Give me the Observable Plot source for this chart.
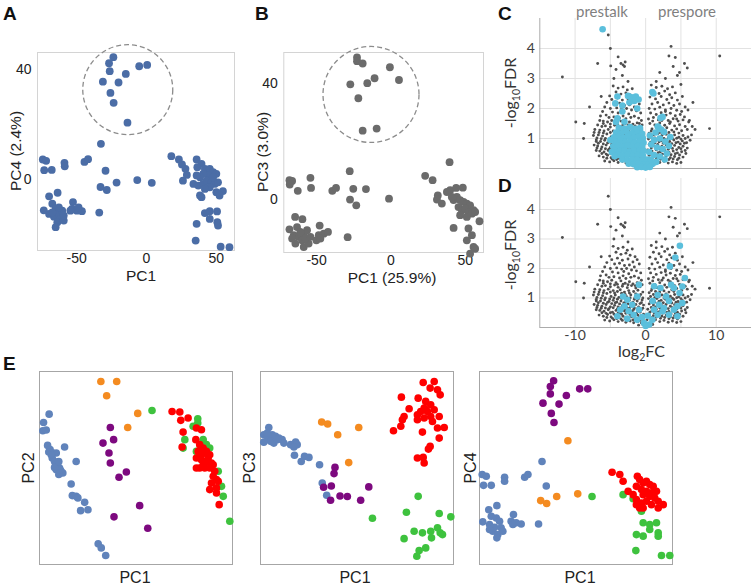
<!DOCTYPE html>
<html><head><meta charset="utf-8">
<script src="https://cdn.jsdelivr.net/npm/d3@7"></script>
<script src="https://cdn.jsdelivr.net/npm/@observablehq/plot@0.6"></script>
<style>
html,body{margin:0;padding:0;background:#fff;}
#root{position:relative;width:751px;height:585px;overflow:hidden;background:#fff;}
#root svg{position:absolute;overflow:visible;}
</style></head><body><div id="root"></div>
<script>
// ---------- Panel A: PC1 vs PC4 ----------
const aTicksX = [-50, 0, 50];
const aTicksY = [0, 40];
const aRing = [-13.4, 32.7];
const aPts = [
[-23.7,44.5],[-26.8,42.3],[-26.3,39.4],[-31.2,35.6],[-20,35.3],[-14.8,38.4],[-5.2,41.2],[0.5,41.7],[-25.8,31.5],[-23.5,27.9],[-13.6,20.7],
[-32.6,13],[-74.2,7.3],[-71.8,6.8],[-73.2,3.4],[-67.8,3.5],[-58.7,6.1],[-58.5,4.8],[-44.4,6.4],[-41.8,7.4],[-29.3,3.2],[-21.4,-1.1],[-32.9,-2.7],[-28.4,-3.8],[-6.6,-0.2],[3.8,-1.2],
[-67.4,-8.8],[-65.0,-10.7],[-69.7,-12.5],[-66.2,-13.5],[-62.7,-12.5],[-60.3,-11.3],[-61.5,-14.3],[-63.8,-15.5],[-59.2,-14.9],[-67.4,-11.9],[-62.7,-10.1],[-59.2,-13.1],[-65.0,-17.3],[-73.5,-11.2],[-69.7,-6.1],[-63.6,-4.8],[-52.6,-8.2],[-53.3,-10.7],[-49.8,-11.3],[-46.2,-11.5],[-54.5,-11.3],[-48.6,-10.1],[-33.8,-12.0],
[17.8,8.5],[23.2,7.3],[25.4,5.5],[27.9,3.9],[26.1,-0.4],[28.9,1.7],[35.9,7.3],[39.4,5.7],[36.4,4.5],[41.8,3.9],[45.3,3.9],[47.7,2.7],[50.0,2.1],[44.1,1.5],[40.6,2.1],[38.3,0.8],[35.9,1.5],[33.6,-1.6],[37.1,-2.2],[40.6,-1.6],[43.0,-0.4],[46.5,-1.0],[48.8,-1.6],[51.2,-1.0],[47.7,0.8],[45.3,-2.8],[41.8,-3.4],[50.0,-4.6],[54.7,-4.2],[52.3,-5.8],[39.4,-6.4],[38.3,-5.8],[41.8,-12.2],[45.3,-11.5],[50.5,-11.6],[45.3,-14.3],[35.9,-16.1],[50.7,-15.5],[51.2,-16.7],[35.2,-22.2],[53.1,-24.4],[59.4,-24.6]
];

// ---------- Panel B: PC1 vs PC3 ----------
const bTicksX = [-50, 0, 50];
const bTicksY = [0, 40];
const bRing = [-13.4, 36.2];
const bPts = [
[-22.8,49],[-22.8,47.7],[-19,46.9],[-0.7,45.6],[5.4,41.2],[-11,41.8],[-15.9,40.1],[-27.3,39.7],[-21.9,34.9],[-19,23.7],[-9.6,24.4],
[-68.2,6.6],[-66.4,6.3],[-68,5.1],[-62.6,2.9],[-54.1,7.4],[-53.7,3.9],[-39.4,2.9],[-36.9,3.9],[-27.7,9.7],[-25.3,3.6],[-16.8,3.5],[-27.5,-0.1],[-23.3,-2.1],[-1.3,0.2],[-29.1,-13.1],
[-64.4,-6.1],[-59.5,-6.9],[-68.2,-10.4],[-63.1,-9.6],[-65.3,-12.4],[-62.0,-13.0],[-58.6,-11.9],[-56.4,-10.7],[-59.7,-14.2],[-64.2,-15.3],[-58.6,-16.5],[-55.3,-15.3],[-60.9,-11.3],[-57.5,-13.6],[-54.1,-13.0],[-66.4,-13.6],[-47.9,-9.1],[-48.5,-12.4],[-45.2,-11.9],[-42.3,-11.3],[-50.1,-14.2],[-47.4,-13.6],
[23.0,8.1],[28.0,6.6],[31.5,1.3],[30.9,-0.1],[34.2,-1.5],[39.4,12.8],[39.8,3.1],[43.8,3.9],[48.3,4.0],[42.1,-0.3],[44.3,0.8],[46.5,-0.3],[48.8,-0.9],[51.0,-1.5],[53.2,-2.1],[55.5,-3.8],[45.4,-2.7],[47.7,-3.8],[49.9,-3.2],[52.1,-4.4],[54.4,-5.0],[46.5,-5.5],[51.0,-6.1],[56.6,-4.4],[59.5,-7.6],[42.1,-9.9],[52.1,-10.1],[54.4,-12.4],[51.0,-14.2],[55.5,-16.5],[56.6,-17.1],[53.2,-18.8],[37.6,2.5],[40.9,0.8]
];

// ---------- Panels C & D: volcano (log2FC, -log10FDR) ----------
const vTicksX = [-10, 0, 10];
const vGridX = [-10, -5, 0, 5, 10];
const vTicksY = [1, 2, 3, 4];
const genes = [
[-11.8,3.05],[-9.9,1.55],[-8.7,1.5],[-7.95,2.05],[-8.8,1.0],[-6.8,3.5],[-5.0,4.0],[-5.3,4.45],[-4.95,3.42],[-3.9,3.72],[-3.5,3.5],[-3.2,3.45],[-3.0,3.4],[-3.3,3.1],[-2.9,3.55],[3.6,4.07],[3.3,3.75],[4.2,3.7],[5.5,3.5],[5.9,3.35],[10.5,3.75],[9.05,1.33],[6.7,2.2],[-6.3,2.4],[-7.3,1.2],[-7.0,0.9],[-6.5,1.6],[7.0,1.3],[6.2,1.6],[6.6,1.4],[-4.5,3.0],[2.0,3.2],[2.8,3.0],[4.5,3.1],[1.5,2.9],[-2.5,2.9],[-4.2,3.3],[3.9,3.4],[4.8,3.2],[5.0,2.8],
[-4.6,2.75],[-3.9,2.68],[-3.2,2.72],[-2.6,2.62],[-1.9,2.66],[-4.2,2.55],[-3.5,2.48],[-2.8,2.52],[-2.2,2.45],[-1.5,2.4],[-5.1,2.42],[-4.8,2.3],[-4.0,2.35],[-3.3,2.28],[-2.5,2.32],[-1.8,2.22],[-1.2,2.3],[-5.5,2.2],[-4.4,2.15],[-3.7,2.18],[-3.0,2.1],[-2.3,2.12],[-1.6,2.05],[-0.9,2.15],[-5.8,2.05],[-5.0,2.0],[-4.1,2.02],[-3.4,1.98],[-2.7,2.0],[-2.0,1.95],[-1.3,1.92],[-6.1,1.9],[-4.7,1.88],[-3.9,1.85],[-3.1,1.9],[-2.4,1.82],[-0.7,1.85],
[-6.4,1.75],[-5.6,1.78],[-5.2,1.7],[-4.5,1.72],[-3.7,1.68],[-3.2,1.75],[-2.8,1.66],[-2.1,1.7],[-1.6,1.74],[-1.0,1.68],[-0.6,1.6],[-6.0,1.58],[-5.4,1.55],[-4.8,1.6],[-4.2,1.52],[-3.5,1.58],[-2.9,1.5],[-2.3,1.55],[-1.8,1.48],[-1.2,1.52],[-0.5,1.45],[-6.8,1.45],[-6.2,1.4],[-5.7,1.42],[-5.0,1.38],[-4.4,1.44],[-3.9,1.36],[-3.3,1.4],[-2.6,1.35],[-2.0,1.42],[-1.4,1.34],[-0.8,1.38],[-7.2,1.3],[-6.5,1.28],[-5.9,1.25],[-5.3,1.3],[-4.6,1.25],[-4.0,1.22],[-3.6,1.28],[-3.0,1.2],[-2.4,1.25],[-1.7,1.22],[-1.1,1.26],[-0.4,1.2],
[-7.4,1.1],[-6.7,1.12],[-6.1,1.08],[-5.5,1.15],[-4.9,1.05],[-4.3,1.1],[-3.8,1.02],[-3.2,1.08],[-2.7,1.04],[-2.1,1.1],[-1.5,1.02],[-0.9,1.06],[-0.4,1.0],
[-7.0,0.95],[-6.4,0.9],[-5.8,0.94],[-5.2,0.88],[-4.6,0.92],[-4.1,0.86],[-3.5,0.9],[-2.9,0.85],[-2.3,0.92],[-1.8,0.86],[-1.2,0.9],[-0.6,0.84],
[-7.3,0.78],[-6.8,0.75],[-6.2,0.72],[-5.6,0.78],[-5.0,0.7],[-4.4,0.75],[-3.9,0.7],[-3.3,0.74],[-2.7,0.68],[-2.1,0.72],[-1.6,0.66],[-1.0,0.7],[-0.4,0.65],
[-7.0,0.6],[-6.5,0.58],[-5.9,0.55],[-5.3,0.6],[-4.7,0.52],[-4.2,0.58],[-3.6,0.5],[-3.0,0.56],[-2.5,0.5],[-1.9,0.54],[-1.3,0.48],[-0.8,0.52],[-0.3,0.45],
[-6.6,0.42],[-6.0,0.38],[-5.4,0.44],[-4.9,0.36],[-4.3,0.4],[-3.8,0.34],[-3.2,0.38],[-2.6,0.32],[-2.0,0.36],[-1.5,0.3],[-0.9,0.34],[-0.4,0.28],
[-5.8,0.25],[-5.1,0.22],[-4.5,0.26],[-3.9,0.2],[-3.3,0.24],[-2.8,0.18],[-2.2,0.22],[-1.7,0.16],[-1.1,0.2],[-0.6,0.15],[-0.2,0.12],
[-6.9,1.02],[-6.3,0.99],[-5.7,1.0],[-5.1,0.97],[-4.5,1.0],[-4.0,0.96],[-3.4,0.99],[-2.8,0.95],[-2.2,1.0],[-1.6,0.96],[-1.0,0.98],[-0.5,0.93],
[-6.7,0.84],[-6.0,0.82],[-5.4,0.85],[-4.8,0.81],[-4.3,0.84],[-3.7,0.8],[-3.1,0.83],[-2.5,0.8],[-1.9,0.82],[-1.4,0.78],[-0.8,0.81],[-0.3,0.76],
[-6.9,0.68],[-6.3,0.65],[-5.7,0.66],[-5.2,0.64],[-4.6,0.67],[-4.0,0.63],[-3.5,0.66],[-2.9,0.62],[-2.3,0.65],[-1.7,0.61],[-1.2,0.63],[-0.6,0.6],
[-6.2,0.5],[-5.6,0.48],[-5.0,0.5],[-4.5,0.46],[-3.9,0.49],[-3.4,0.45],[-2.8,0.48],[-2.2,0.44],[-1.6,0.47],[-1.1,0.42],[-0.6,0.4],
[-5.5,0.34],[-4.7,0.31],[-4.1,0.3],[-3.5,0.29],[-2.9,0.3],[-2.4,0.27],[-1.8,0.26],[-1.3,0.25],[-0.8,0.24],
[-6.6,1.2],[-6.0,1.18],[-5.0,1.2],[-4.4,1.17],[-3.4,1.16],[-2.9,1.12],[-2.3,1.17],[-1.4,1.14],[-0.7,1.12],
[-6.0,1.5],[-5.0,1.48],[-4.0,1.46],[-3.2,1.47],[-2.5,1.45],[-1.5,1.42],[-0.9,1.5],
[0.8,2.78],[1.5,2.7],[2.3,2.74],[3.1,2.66],[3.8,2.72],[1.1,2.55],[1.9,2.5],[2.7,2.58],[3.4,2.46],[4.2,2.52],[0.6,2.38],[1.4,2.32],[2.2,2.4],[3.0,2.3],[3.7,2.36],[4.5,2.28],[5.2,2.4],[0.9,2.15],[1.7,2.2],[2.5,2.12],[3.3,2.18],[4.0,2.1],[4.8,2.15],[5.6,2.05],[0.5,2.0],[1.3,1.98],[2.0,2.04],[2.8,1.95],[3.6,2.0],[4.4,1.94],[5.1,1.9],[6.0,1.95],
[0.7,1.85],[1.5,1.8],[2.2,1.86],[2.9,1.78],[3.5,1.84],[4.2,1.76],[4.9,1.8],[5.5,1.72],[0.4,1.65],[1.1,1.7],[1.8,1.62],[2.5,1.68],[3.2,1.6],[3.9,1.66],[4.6,1.58],[5.3,1.62],[6.1,1.55],[0.6,1.5],[1.3,1.45],[2.0,1.52],[2.7,1.44],[3.4,1.5],[4.1,1.42],[4.8,1.46],[5.6,1.4],[0.9,1.32],[1.6,1.35],[2.3,1.3],[3.0,1.36],[3.7,1.28],[4.4,1.32],[5.1,1.26],[5.9,1.3],
[0.5,1.18],[1.1,1.12],[1.7,1.16],[2.3,1.1],[2.9,1.14],[3.5,1.06],[4.1,1.12],[4.7,1.04],[5.3,1.1],[6.0,1.05],[6.5,1.12],
[0.4,0.98],[1.0,0.94],[1.6,0.98],[2.2,0.92],[2.8,0.96],[3.4,0.9],[4.0,0.95],[4.6,0.88],[5.2,0.92],[5.8,0.86],[6.3,0.94],
[0.5,0.8],[1.1,0.76],[1.7,0.8],[2.3,0.74],[2.9,0.78],[3.5,0.72],[4.1,0.77],[4.7,0.7],[5.3,0.74],[5.9,0.68],
[0.3,0.62],[0.9,0.58],[1.5,0.62],[2.1,0.56],[2.7,0.6],[3.3,0.54],[3.9,0.58],[4.5,0.52],[5.1,0.56],[5.7,0.5],
[0.5,0.44],[1.1,0.4],[1.7,0.44],[2.3,0.38],[2.9,0.42],[3.5,0.36],[4.1,0.4],[4.7,0.34],[5.3,0.38],
[0.2,0.26],[0.8,0.22],[1.4,0.26],[2.0,0.2],[2.6,0.24],[3.2,0.18],[3.8,0.22],[4.4,0.17],[5.0,0.2],
[0.0,0.08],[0.4,0.12],[-0.4,0.1],[1.0,0.1],[-1.0,0.08],
[0.7,1.05],[1.3,1.02],[1.9,1.04],[2.6,1.0],[3.2,1.02],[3.8,0.99],[4.4,1.01],[5.0,0.98],[5.6,1.0],
[0.7,0.88],[1.3,0.86],[1.9,0.89],[2.5,0.84],[3.1,0.87],[3.7,0.83],[4.3,0.86],[4.9,0.82],[5.5,0.84],
[0.8,0.68],[1.4,0.7],[2.0,0.66],[2.6,0.69],[3.2,0.64],[3.8,0.67],[4.4,0.63],[5.0,0.66],[5.6,0.6],
[0.6,0.52],[1.2,0.5],[1.8,0.53],[2.4,0.48],[3.0,0.51],[3.6,0.46],[4.2,0.49],[4.8,0.45],
[0.9,0.33],[1.5,0.35],[2.1,0.31],[2.7,0.34],[3.3,0.3],[3.9,0.32],[4.5,0.29],
[0.8,1.25],[1.4,1.22],[2.0,1.2],[2.6,1.24],[3.3,1.2],[4.0,1.22],[4.7,1.18],
[1.0,1.58],[2.3,1.6],[3.5,1.55],[4.4,1.65],[2.8,1.9]
];
const cHits = [
[-6.1,4.64],[0.95,2.55],[1.1,2.5],[-2.5,2.42],[-2.1,2.38],[-1.4,2.4],[-1.6,2.25],[-2.3,2.2],[-1.0,2.3],[-4.3,2.17],[-3.3,2.1],[-4.0,2.4],[-1.2,2.0],[-3.3,1.9],[-4.0,1.67],[-4.2,1.55],[-3.0,1.56],[-0.8,1.28],[2.4,1.72],[2.1,1.68],[1.7,1.4],[2.6,1.22],[1.8,1.38],
[-3.8,1.36],[-3.0,1.33],[-2.2,1.38],[-1.5,1.32],[-0.8,1.35],
[-4.2,1.2],[-3.5,1.17],[-2.7,1.22],[-1.9,1.18],[-1.2,1.21],[-0.5,1.16],
[-4.5,1.04],[-3.8,1.06],[-3.1,1.02],[-2.4,1.07],[-1.7,1.03],[-1.0,1.05],[-0.4,1.01],
[-4.3,0.89],[-3.6,0.92],[-2.9,0.88],[-2.2,0.91],[-1.5,0.87],[-0.8,0.9],[-0.3,0.86],
[-4.6,0.74],[-3.9,0.76],[-3.2,0.73],[-2.5,0.77],[-1.8,0.74],[-1.1,0.75],[-0.5,0.72],
[-4.4,0.6],[-3.7,0.58],[-3.0,0.61],[-2.3,0.57],[-1.6,0.6],[-0.9,0.58],[-0.3,0.59],
[-3.9,0.45],[-3.2,0.43],[-2.5,0.46],[-1.8,0.42],[-1.1,0.45],[-0.4,0.43],
[-3.3,0.3],[-2.6,0.28],[-1.9,0.31],[-1.2,0.29],[-0.5,0.27],[0.2,0.3],
[-2.4,0.16],[-1.7,0.14],[-1.0,0.17],[-0.3,0.13],[0.4,0.15],[1.0,0.16],
[-1.2,0.04],[-0.6,0.05],[0.0,0.03],[0.6,0.05],
[-4.8,0.55],[-4.4,0.41],[-5.0,0.95],
[0.6,1.1],[1.2,0.95],[2.0,1.0],[2.8,0.9],[3.3,0.75],[0.8,0.8],[1.6,0.7],[2.4,0.65],[3.0,0.5],[0.5,0.55],[1.2,0.45],[2.0,0.4],[2.7,0.3],[0.7,0.3],[1.5,0.22],[3.5,1.05],[2.2,1.3],[1.4,1.2]
];
const dHits = [
[4.85,2.77],[4.2,2.37],[3.44,2.07],[5.56,1.68],[5.2,1.39],[4.8,1.17],[5.2,0.83],[4.5,0.72],[4.0,1.34],[3.6,1.45],
[-0.95,1.45],[1.2,1.4],[2.1,1.34],[2.9,1.05],[1.7,1.1],[1.0,0.9],[3.3,0.9],[2.6,0.66],
[-3.2,1.05],[-2.6,0.94],[-1.9,0.77],[-1.2,1.05],[-3.0,0.72],[-2.4,0.55],[-1.7,0.43],[-0.95,0.6],[-4.0,0.38],[-3.6,0.6],[-2.6,0.3],[-1.2,0.26],[-0.24,0.15],[0.5,0.1],[0.0,0.05],[0.95,0.26],[1.7,0.43],[2.4,0.55],[3.3,0.43],[4.0,0.6],[4.5,0.38],[1.2,0.6],[1.9,0.77],[-0.5,0.35],[0.3,0.4]
];

// ---------- Panel E: PCA groups (unitless axes) ----------
const e1Blue = [[5.0,77.9],[2.1,73.6],[1.7,69.3],[3.5,69.7],[4.2,61.7],[5.5,59.5],[4.8,58.3],[6.9,57.8],[8.7,57.8],[6.6,55.2],[7.8,53.4],[8.7,51.7],[9.5,50.9],[10.4,50.0],[11.2,48.3],[10.0,46.6],[12.1,47.4],[13.0,60.9],[19.0,53.4],[16.4,41.7],[17.0,35.7],[19.0,35.3],[19.9,34.5],[23.4,32.2],[21.3,27.9],[25.1,28.4],[30.4,10.7],[32.0,8.6],[34.3,4.7],[8.7,49.1],[10.7,49.1],[7.8,50.3],[10.0,53.4],[6.1,56.9]];
const e1Purple = [[36.7,71.0],[38.4,64.7],[32.9,62.9],[36.0,57.8],[36.7,52.6],[45.0,47.9],[41.2,45.2],[51.9,30.5],[38.6,24.7],[56.1,18.8]];
const e1Orange = [[31.8,94.8],[40.0,94.8],[34.8,87.4],[50.9,78.3],[45.7,71.0]];
const e1Green = [[58.3,79.8],[82.0,75.5],[82.0,73.3],[79.6,71.6],[75.3,64.7],[74.4,60.3],[81.3,58.6],[84.8,64.7],[86.5,62.1],[88.2,60.3],[92.6,48.3],[94.3,40.5],[95.2,35.3],[98.6,22.4]];
const e1Red = [[68.7,79.3],[72.7,79.0],[73.2,74.7],[77.0,75.9],[74.4,68.6],[73.9,60.9],[81.3,70.7],[83.9,69.8],[81.0,64.7],[83.0,62.1],[84.8,60.3],[82.2,58.6],[86.5,58.6],[88.2,56.9],[81.3,55.2],[83.9,54.3],[86.5,53.4],[89.1,52.6],[85.6,50.0],[81.3,50.0],[88.2,50.0],[90.8,48.3],[90.0,45.7],[91.7,44.0],[89.1,42.2],[92.6,43.1],[88.2,38.8],[91.7,37.1],[93.1,31.0],[85.6,57.8],[83.9,56.9],[87.4,55.2],[84.8,51.7],[83.0,50.0],[90.0,51.7],[91.7,39.7]];

const e2Blue = [[4.3,71.0],[1.7,67.2],[3.5,66.4],[6.1,67.2],[7.8,66.4],[9.5,65.5],[5.2,63.8],[1.7,63.4],[6.9,62.9],[11.2,64.7],[12.1,62.9],[8.7,64.7],[15.6,62.1],[18.2,63.4],[19.0,62.1],[17.3,60.9],[3.5,68.1],[17.6,56.6],[22.8,56.0],[25.1,55.5],[21.1,53.4],[30.6,51.7],[32.0,42.2],[34.3,35.9]];
const e2Purple = [[38.6,50.3],[38.1,47.1],[32.7,40.0],[36.7,40.7],[36.3,33.3],[41.2,35.5],[45.0,35.2],[51.9,33.3],[56.1,40.2]];
const e2Orange = [[31.7,73.8],[34.8,72.8],[40.0,67.2],[50.9,71.0],[45.7,52.8]];
const e2Green = [[81.7,35.3],[75.6,27.1],[92.6,26.4],[98.6,24.7],[79.6,17.2],[74.4,13.4],[83.9,16.4],[88.2,17.2],[91.7,19.0],[93.1,16.4],[94.3,15.5],[88.6,13.8],[85.6,8.6],[82.2,7.2],[81.0,4.3],[58.0,24.0]];
const e2Red = [[84.3,94.3],[90.0,94.8],[87.9,91.4],[91.7,90.5],[93.1,87.9],[73.0,86.7],[81.7,86.2],[77.0,80.7],[85.6,84.5],[88.2,82.8],[84.8,81.0],[83.0,79.3],[81.3,77.6],[86.5,79.3],[90.0,80.2],[88.2,76.7],[84.8,75.9],[81.3,75.0],[74.4,76.7],[73.5,75.0],[72.7,71.6],[68.9,69.3],[92.6,76.7],[89.1,74.1],[91.7,70.7],[95.2,71.0],[83.9,68.6],[92.6,65.5],[87.9,61.2],[87.0,59.8],[81.3,55.2],[84.3,55.5],[84.8,52.6],[85.6,80.2]];

const e3Blue = [[1.4,46.6],[3.5,45.7],[2.1,41.0],[6.1,41.0],[13.0,45.2],[13.0,43.1],[23.4,45.2],[25.1,46.6],[32.4,53.4],[34.6,40.7],[30.6,21.0],[4.8,28.4],[9.0,30.5],[6.1,25.0],[8.7,24.1],[10.4,22.4],[1.7,22.1],[5.2,20.7],[7.8,19.3],[11.2,19.0],[6.9,17.2],[9.5,15.5],[12.1,17.2],[17.6,25.9],[16.4,22.4],[19.0,21.6],[21.6,21.0],[17.3,20.7],[5.2,18.1],[9.0,13.8]];
const e3Purple = [[38.4,95.2],[36.7,92.2],[36.7,88.4],[45.0,87.6],[51.9,91.0],[56.1,91.0],[32.9,83.6],[41.2,83.1],[37.2,78.3],[38.6,73.6]];
const e3Orange = [[45.8,64.1],[31.7,33.1],[34.8,31.6],[40.0,35.2],[50.9,36.6]];
const e3Green = [[58.3,35.2],[74.4,36.2],[79.6,34.1],[83.9,27.6],[84.8,21.6],[88.2,20.7],[91.7,21.6],[88.2,18.1],[81.3,15.5],[84.8,14.7],[92.6,16.4],[92.6,14.7],[81.0,7.2],[94.3,4.7],[98.6,4.7]];
const e3Red = [[68.7,47.8],[72.7,46.6],[74.4,43.1],[81.8,45.7],[83.0,44.0],[84.8,42.2],[86.5,43.1],[88.2,41.4],[90.0,40.5],[81.3,40.5],[83.9,38.8],[86.5,37.9],[89.1,37.1],[91.7,37.9],[84.8,36.2],[88.2,35.3],[90.8,34.5],[92.6,32.8],[95.2,31.0],[81.3,33.6],[83.9,31.9],[86.5,32.8],[84.8,29.3],[89.1,31.0],[92.6,29.3],[77.0,37.9],[79.6,36.2],[81.3,31.0],[83.0,29.3]];

// ---------- drawing ----------
const root = document.getElementById("root");
const SANS = "'Liberation Sans', Arial, sans-serif";
const LATO = "Lato, 'Open Sans', sans-serif";
const fmt = d => String(d);
const px = d => d[0], py = d => d[1];
function put(svg, left, top) { svg.style.left = left + "px"; svg.style.top = top + "px"; root.appendChild(svg); }

function pcaPanel(o) {
  return Plot.plot({
    width: o.w, height: o.h, marginLeft: o.ml, marginRight: o.mr, marginTop: o.mt, marginBottom: o.mb,
    x: {domain: o.xd}, y: {domain: o.yd},
    style: {fontFamily: SANS, fontSize: "14px", color: "#222", background: "transparent", overflow: "visible"},
    marks: [
      Plot.frame({stroke: "#d4d4d4"}),
      Plot.axisX({ticks: o.tx, tickSize: 0, tickPadding: 3, tickFormat: fmt, label: null}),
      Plot.axisY({ticks: o.ty, tickSize: 0, tickPadding: 6, tickFormat: fmt, label: null}),
      Plot.dot(o.pts, {x: px, y: py, r: 3.9, fill: o.color}),
      Plot.dot([o.ring], {x: px, y: py, r: o.rr, fill: "none", stroke: "#8c8c8c", strokeWidth: 1.3, strokeDasharray: "5,3"})
    ]
  });
}
put(pcaPanel({w: 245, h: 290, ml: 37, mr: 11, mt: 52, mb: 40, xd: [-78, 63], yd: [-25.8, 46.2], tx: aTicksX, ty: aTicksY, pts: aPts, color: "#4b6da6", ring: aRing, rr: 45}), 0, 0);
put(pcaPanel({w: 250, h: 290, ml: 43.3, mr: 7, mt: 52, mb: 38, xd: [-72, 62.2], yd: [-18.4, 50.7], tx: bTicksX, ty: bTicksY, pts: bPts, color: "#6b6b6b", ring: bRing, rr: 48}), 240, 0);

function volcano(o) {
  return Plot.plot({
    width: 261, height: o.h, marginLeft: 49.3, marginRight: 0, marginTop: o.mt, marginBottom: o.mb,
    x: {domain: [-15, 15]}, y: {domain: [0, o.ytop]},
    style: {fontFamily: LATO, fontSize: "14px", color: "#404040", background: "transparent", overflow: "visible"},
    marks: [
      Plot.gridX({ticks: vGridX, stroke: "#e2e2e2", strokeOpacity: 1}),
      Plot.gridY({ticks: vTicksY, stroke: "#e2e2e2", strokeOpacity: 1}),
      Plot.ruleX([-15], {stroke: "#ababab"}),
      Plot.ruleY([0], {stroke: "#ababab"}),
      Plot.axisY({ticks: vTicksY, tickSize: 0, tickPadding: 5, tickFormat: fmt, label: null}),
      o.xaxis ? Plot.axisX({ticks: vTicksX, tickSize: 0, tickPadding: 3, tickFormat: fmt, label: null}) : Plot.axisX({ticks: []}),
      Plot.dot(genes, {x: px, y: py, r: 1.45, fill: "#4f4f4f"}),
      Plot.dot(o.hits, {x: px, y: py, r: 3.3, fill: "#5bbfdc"})
    ]
  });
}
put(volcano({h: 170, mt: 18, mb: 2, ytop: 5.0, hits: cHits, xaxis: false}), 490, 0);
put(volcano({h: 185, mt: 8, mb: 28, ytop: 5.05, hits: dHits, xaxis: true}), 490, 170);

function ePanel(g) {
  const dot = (data, fill) => Plot.dot(data, {x: px, y: py, r: 3.8, fill});
  return Plot.plot({
    width: 195, height: 195, margin: 1,
    x: {domain: [0, 100], axis: null}, y: {domain: [0, 100], axis: null},
    style: {background: "transparent", overflow: "visible"},
    marks: [
      Plot.frame({stroke: "#a6a6a6"}),
      dot(g[0], "#6083bb"), dot(g[1], "#7d097f"), dot(g[2], "#f48b20"), dot(g[3], "#3ec23e"), dot(g[4], "#ff0000")
    ]
  });
}
put(ePanel([e1Blue, e1Purple, e1Orange, e1Green, e1Red]), 38.3, 370.3);
put(ePanel([e2Blue, e2Purple, e2Orange, e2Green, e2Red]), 259.3, 370.3);
put(ePanel([e3Blue, e3Purple, e3Orange, e3Green, e3Red]), 478.3, 370.3);

// ---------- text overlay ----------
const ns = "http://www.w3.org/2000/svg";
const ov = document.createElementNS(ns, "svg");
ov.setAttribute("width", 751); ov.setAttribute("height", 585);
ov.style.left = "0px"; ov.style.top = "0px"; ov.style.pointerEvents = "none";
const S = `font-family:${SANS}`;
const L = `font-family:${LATO}`;
const rot = (x, y, size, font, content, fill = "#222") =>
  `<text transform="translate(${x},${y}) rotate(-90)" text-anchor="middle" dy="0.36em" style="${font};font-size:${size}px;fill:${fill}">${content}</text>`;
const hor = (x, y, size, font, content, fill = "#222") =>
  `<text x="${x}" y="${y}" text-anchor="middle" style="${font};font-size:${size}px;fill:${fill}">${content}</text>`;
const letter = (x, y, s) => `<text x="${x}" y="${y}" style="${S};font-size:19px;font-weight:bold;fill:#111">${s}</text>`;
const fdr = `-log<tspan dy="4" style="font-size:10.5px">10</tspan><tspan dy="-4">FDR</tspan>`;
ov.innerHTML = [
  letter(3, 20, "A"), letter(255, 20, "B"), letter(498, 20, "C"), letter(498, 192, "D"), letter(3, 370, "E"),
  rot(15, 151, 15.5, S, "PC4 (2.4%)"),
  hor(141, 281, 15.5, S, "PC1"),
  rot(262, 152, 15.5, S, "PC3 (3.0%)"),
  hor(392, 283, 15.5, S, "PC1 (25.9%)"),
  hor(602, 17, 15, L, "prestalk", "#7f7f7f"),
  hor(687, 17, 15, L, "prespore", "#7f7f7f"),
  rot(510, 93, 16, L, fdr, "#333"),
  rot(510, 255, 16, L, fdr, "#333"),
  hor(641.5, 357, 16, L, `log<tspan dy="4" style="font-size:10.5px">2</tspan><tspan dy="-4">FC</tspan>`, "#333"),
  rot(28.5, 468, 16, S, "PC2"), hor(135, 583, 16, S, "PC1"),
  rot(249, 468, 16, S, "PC3"), hor(355, 583, 16, S, "PC1"),
  rot(470, 468, 16, S, "PC4"), hor(580, 583, 16, S, "PC1")
].join("");
root.appendChild(ov);
</script>
</body></html>
